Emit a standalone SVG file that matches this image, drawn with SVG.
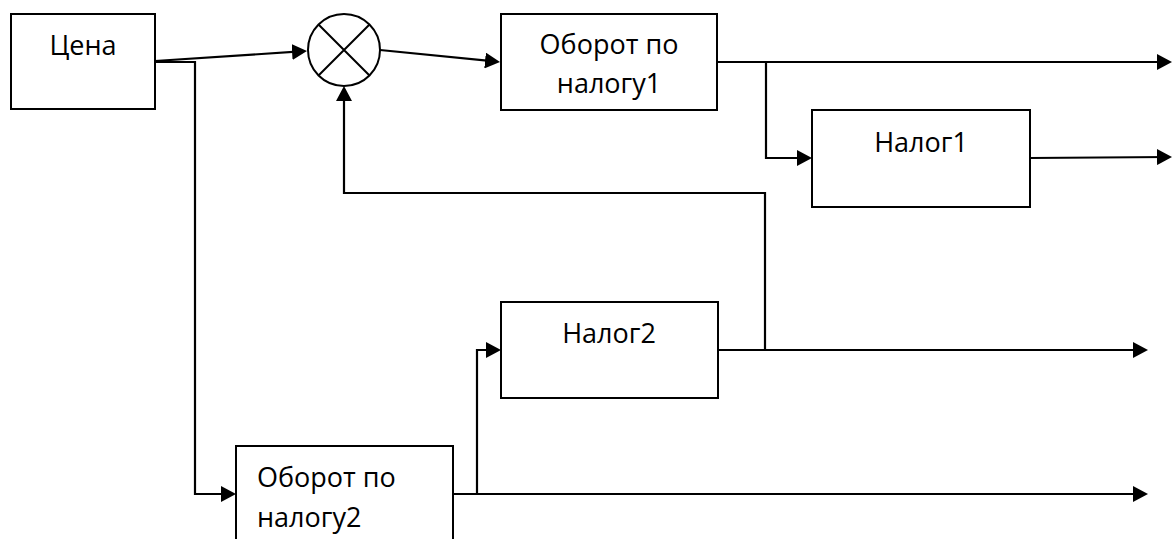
<svg xmlns="http://www.w3.org/2000/svg" width="1173" height="539" viewBox="0 0 1173 539">
<style>
.box{fill:#fff;stroke:#000;stroke-width:2}
.ln{fill:none;stroke:#000;stroke-width:2.2}
.t{font-family:"Open Sans","Noto Sans","DejaVu Sans",sans-serif;font-size:27px;fill:#000}
.c{text-anchor:middle}
</style>
<defs>
<marker id="ah" viewBox="0 0 15 16" refX="12" refY="8" markerWidth="15" markerHeight="16" markerUnits="userSpaceOnUse" orient="auto">
<path d="M0,0 L15,8 L0,16 Z" fill="#000"/>
</marker>
</defs>
<rect width="1173" height="539" fill="#fff"/>
<g id="connectors">
<path class="ln" d="M155,61 L304,51.2" marker-end="url(#ah)"/>
<path class="ln" d="M155,62 L195,62 L195,494 L233,494" marker-end="url(#ah)"/>
<path class="ln" d="M380,50 L497,61.7" marker-end="url(#ah)"/>
<path class="ln" d="M717,62 L1169,62" marker-end="url(#ah)"/>
<path class="ln" d="M766,62 L766,158 L809,158" marker-end="url(#ah)"/>
<path class="ln" d="M1030,158 L1169,157" marker-end="url(#ah)"/>
<path class="ln" d="M718,350 L1145,350" marker-end="url(#ah)"/>
<path class="ln" d="M765,350 L765,193 L344,193 L344,89" marker-end="url(#ah)"/>
<path class="ln" d="M453,494 L1145,494" marker-end="url(#ah)"/>
<path class="ln" d="M477,494 L477,350 L498,350" marker-end="url(#ah)"/>
</g>
<g id="price">
<rect class="box" x="11" y="14" width="144" height="95"/>
<text class="t c" x="83" y="55">Цена</text>
</g>
<g id="mult">
<circle cx="344" cy="50" r="36" fill="#fff" stroke="#000" stroke-width="2"/>
<path d="M318.5,24.5 L369.5,75.5 M369.5,24.5 L318.5,75.5" stroke="#000" stroke-width="2" fill="none"/>
</g>
<g id="turnover1">
<rect class="box" x="501" y="14" width="216" height="96"/>
<text class="t c" x="609" y="54">Оборот по</text>
<text class="t c" x="609" y="93">налогу1</text>
</g>
<g id="tax1">
<rect class="box" x="812" y="110" width="218" height="97"/>
<text class="t c" x="921" y="152">Налог1</text>
</g>
<g id="tax2">
<rect class="box" x="501" y="302" width="217" height="96"/>
<text class="t c" x="609" y="343">Налог2</text>
</g>
<g id="turnover2">
<rect class="box" x="236" y="446" width="217" height="100"/>
<text class="t" x="257" y="487">Оборот по</text>
<text class="t" x="257" y="527">налогу2</text>
</g>
</svg>
